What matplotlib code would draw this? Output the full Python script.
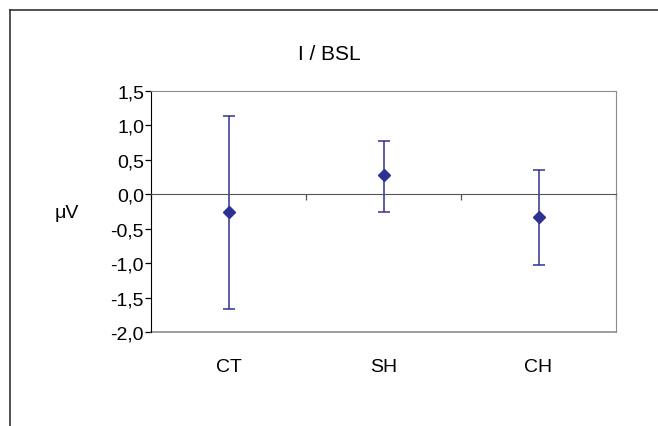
import matplotlib.pyplot as plt
from matplotlib.lines import Line2D

plt.rcParams['font.family'] = ['Liberation Sans', 'DejaVu Sans']

groups = ["CT", "SH", "CH"]
means = [-0.26, 0.28, -0.33]
upper = [1.13, 0.78, 0.35]
lower = [-1.66, -0.25, -1.03]

blue = "#2E3192"
grey = "#8c8c8c"

fig = plt.figure(figsize=(6.58, 4.27), dpi=100)
ax = fig.add_axes([0.2295, 0.2201, 0.7067, 0.5644])

x = list(range(1, len(groups) + 1))
err_lo = [m - l for m, l in zip(means, lower)]
err_hi = [u - m for m, u in zip(means, upper)]
ax.errorbar(x, means, yerr=[err_lo, err_hi], fmt='D', color=blue,
            ms=6, elinewidth=1.1, capsize=4, capthick=1.1)

ax.set_xlim(0.5, 3.5)
ax.set_ylim(-2.0, 1.5)
yt = [-2.0, -1.5, -1.0, -0.5, 0.0, 0.5, 1.0, 1.5]
ax.set_yticks(yt)
ax.set_yticklabels([f"{v:.1f}".replace('.', ',') for v in yt], fontsize=14)
ax.tick_params(axis='y', length=4, width=0.9, pad=1)

# category boundaries as ticks on the zero line
ax.spines['bottom'].set_position(('data', 0))
ax.spines['bottom'].set_color('#555555')
ax.set_xticks([0.5, 1.5, 2.5, 3.5])
ax.set_xticklabels([])
ax.tick_params(axis='x', length=4, width=0.9, color='#555555')

ax.spines['left'].set_color('black')
for s in ['top', 'right']:
    ax.spines[s].set_color(grey)
ax.axhline(-2.0, color=grey, lw=1.2, clip_on=False)

for xi, g in zip(x, groups):
    ax.text(xi, -2.5, g, ha='center', va='center', fontsize=14)

fig.text(67 / 658, 1 - 214 / 427, "\u03bcV", ha='center', va='center', fontsize=14)

fig.text(0.5, 1 - 55 / 427, "I / BSL", ha='center', va='center', fontsize=15)

# outer frame (only left and top visible)
fig.add_artist(Line2D([0.0152, 0.0152], [0.0, 0.974], color='#333333', lw=1.2))
fig.add_artist(Line2D([0.0152, 1.0], [0.974, 0.974], color='#333333', lw=1.2))

fig.savefig("out.png", dpi=100)
